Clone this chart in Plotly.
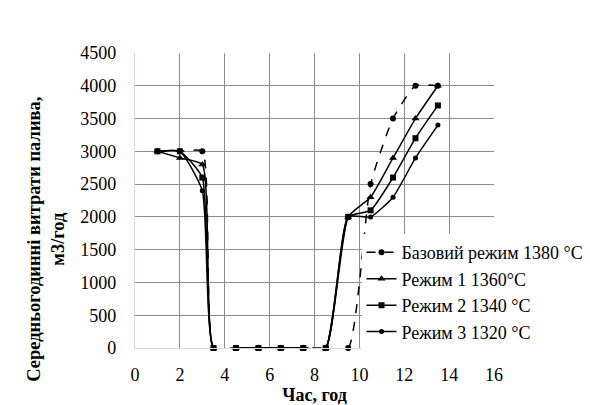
import plotly.graph_objects as go

hours = [1, 2, 3, 3.5, 4.5, 5.5, 6.5, 7.5, 8.5, 9.5, 10.5, 11.5, 12.5, 13.5]
base_1380 = [3000, 3000, 3000, 0, 0, 0, 0, 0, 0, 0, 2500, 3500, 4000, 4000]
mode1_1360 = [3000, 2900, 2800, 0, 0, 0, 0, 0, 0, 2000, 2300, 2900, 3500, 4000]
mode2_1340 = [3000, 3000, 2600, 0, 0, 0, 0, 0, 0, 2000, 2100, 2600, 3200, 3700]
mode3_1320 = [3000, 3000, 2400, 0, 0, 0, 0, 0, 0, 2000, 2000, 2300, 2900, 3400]

names = ["Базовий режим 1380 °C", "Режим 1 1360°C", "Режим 2 1340 °C", "Режим 3 1320 °C"]
x_ticks = [0, 2, 4, 6, 8, 10, 12, 14, 16]
y_ticks = [0, 500, 1000, 1500, 2000, 2500, 3000, 3500, 4000, 4500]

FONT = "Liberation Serif"

series = [
    (names[0], base_1380, "dash", "circle", 6),
    (names[1], mode1_1360, "solid", "triangle-up", 7),
    (names[2], mode2_1340, "solid", "square", 6),
    (names[3], mode3_1320, "solid", "circle", 5),
]

fig = go.Figure()
for name, vals, dash, sym, size in series:
    fig.add_trace(go.Scatter(
        x=hours, y=vals, name=name, mode="lines+markers",
        line=dict(color="black", width=1.5, dash=dash, shape="spline", smoothing=0.5),
        marker=dict(symbol=sym, size=size, color="black"),
        cliponaxis=False,
    ))

fig.update_layout(
    width=590, height=405,
    margin=dict(l=135, r=96, t=53, b=57, autoexpand=False),
    paper_bgcolor="white", plot_bgcolor="white",
    font=dict(family=FONT, size=18, color="black"),
    showlegend=True,
    legend=dict(
        x=0.631, y=0.386, xanchor="left", yanchor="top",
        bgcolor="white", borderwidth=0,
        font=dict(family=FONT, size=18, color="black"),
        itemwidth=30, tracegroupgap=0,
    ),
    annotations=[dict(
        text="<b>Середньогодинні витрати палива,<br>м3/год</b>",
        xref="paper", yref="paper", x=-0.248, y=0.37,
        xanchor="center", yanchor="middle", textangle=-90, showarrow=False,
        font=dict(family=FONT, size=18.5, color="black"),
    )],
)
fig.update_xaxes(
    range=[0, 16], tickvals=x_ticks, ticktext=[str(v) for v in x_ticks],
    showgrid=True, gridcolor="#8c8c8c", gridwidth=1.3,
    showline=True, linecolor="#d9d9e3", linewidth=1.3,
    zeroline=False, ticks="", ticklabelstandoff=10,
    title=dict(text="<b>Час, год</b>", font=dict(family=FONT, size=18), standoff=4),
    automargin=False,
)
fig.update_yaxes(
    range=[0, 4500], tickvals=y_ticks, ticktext=[str(v) for v in y_ticks],
    showgrid=True, gridcolor="#8c8c8c", gridwidth=1.3,
    showline=True, linecolor="#d9d9e3", linewidth=1.3,
    zeroline=False, ticks="", ticklabelstandoff=14,
    automargin=False,
)

fig.write_html("out.html")
